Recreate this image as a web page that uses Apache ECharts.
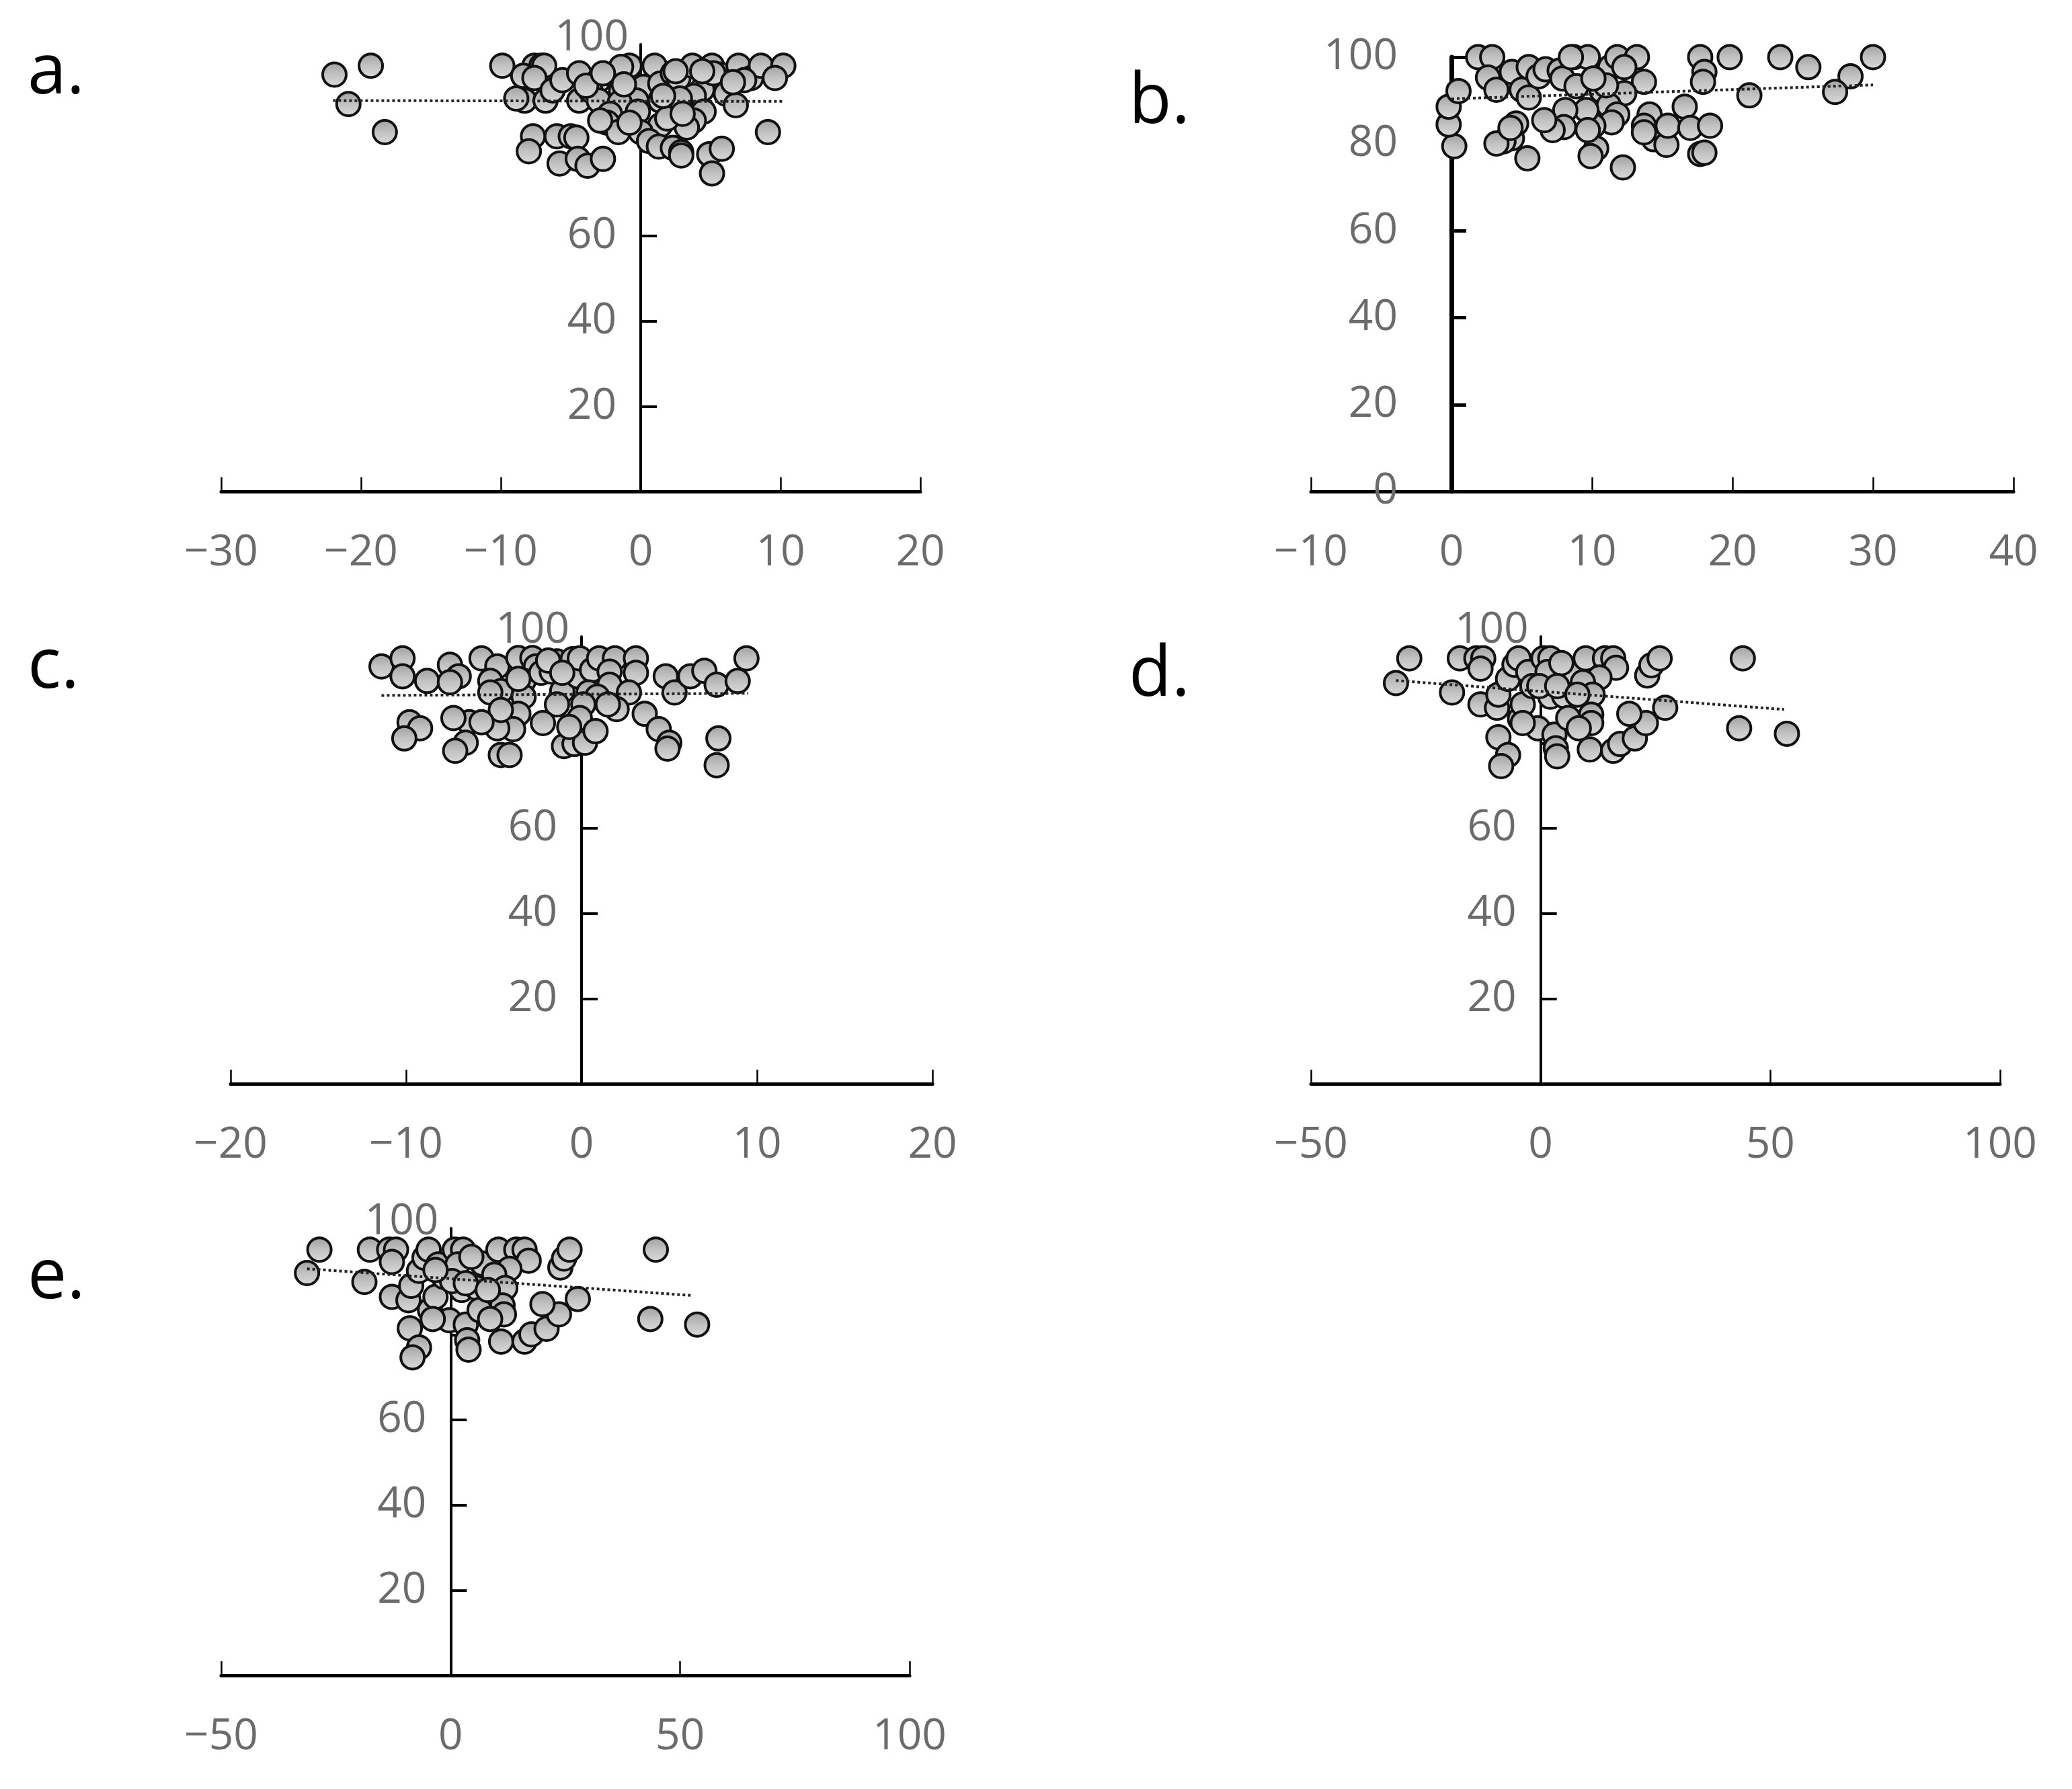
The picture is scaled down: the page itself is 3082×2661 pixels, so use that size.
<!DOCTYPE html>
<html>
<head>
<meta charset="utf-8">
<script src="https://cdn.jsdelivr.net/npm/echarts/dist/echarts.min.js"></script>
<style>
html,body{margin:0;padding:0;background:#fff;}
#chart{width:3082px;height:2661px;}
</style>
</head>
<body>
<div id="chart"></div>
<script>
// ---------- data (x, y) ----------
const pointsA = [[-21.9,97.9],[-19.3,100],[-20.9,91.0],[-18.3,84.4],[-9.9,100],[-7.6,100],[-7.1,100],[-6.9,100],[-8.4,97.6],[-7.6,97.1],[-8.3,91.8],[-6.8,91.8],[-6.3,94.2],[-5.6,96.6],[-4.4,98.2],[-4.4,91.8],[-3.0,96.6],[-3.6,94.2],[-3.0,91.8],[-2.0,97.9],[-0.9,98.2],[-0.8,100],[-1.4,94.2],[0.2,95.0],[1.0,100],[1.4,95.8],[2.3,98.2],[2.7,97.1],[3.7,100],[5.1,100],[5.7,97.9],[7.0,100],[7.9,97.1],[8.6,100],[10.2,100],[9.6,97.1],[7.4,96.6],[4.4,94.4],[3.8,92.9],[6.1,93.4],[6.8,90.7],[2.9,90.7],[1.4,91.8],[-0.3,91.8],[-1.5,91.3],[-2.2,88.7],[-2.4,86.6],[-0.2,89.2],[4.5,89.2],[3.8,87.1],[3.3,85.5],[1.4,86.0],[-1.6,84.4],[0.0,84.4],[0.6,82.3],[1.3,81.0],[2.3,80.7],[2.9,79.7],[2.9,78.9],[4.9,79.2],[5.8,80.5],[5.1,74.7],[9.1,84.4],[-7.7,83.4],[-8.0,79.9],[-6.0,83.4],[-5.0,83.4],[-4.6,83.1],[-5.8,77.0],[-4.5,78.1],[-3.8,76.5],[-2.7,78.1],[-2.9,87.1],[-0.8,86.6],[1.9,87.6],[2.8,92.3],[5.2,98.2],[6.6,96.1],[4.4,98.7],[2.5,98.7],[-3.9,95.3],[-1.4,99.7],[-2.7,98.2],[-8.9,92.3],[-1.2,95.6],[1.6,92.9],[3.0,88.7]];
const trendA = [[-22.0,91.8],[10.2,91.6]];

const pointsB = [[1.9,100],[2.9,100],[2.6,95.3],[3.2,92.5],[4.3,96.6],[5.5,97.7],[5.0,92.5],[5.5,90.7],[6.2,95.6],[6.7,97.2],[7.7,96.9],[7.9,95.1],[8.7,100],[9.7,100],[8.9,93.3],[10.4,94.3],[10.7,92.2],[11.3,97.7],[11.8,100],[13.2,100],[12.3,97.7],[13.7,94.3],[12.3,91.7],[11.2,88.9],[11.8,86.8],[11.4,85.0],[10.1,84.2],[10.3,79.0],[9.9,77.2],[9.6,87.8],[8.1,87.8],[8.0,83.9],[7.2,83.2],[6.6,85.5],[4.3,81.3],[3.7,80.6],[3.2,80.1],[4.6,84.7],[4.2,83.7],[5.4,76.7],[12.2,74.6],[0.2,79.5],[-0.2,84.5],[-0.2,88.6],[0.5,92.2],[14.1,86.8],[13.7,84.2],[14.4,81.1],[15.3,79.8],[15.4,84.2],[16.6,88.6],[17.0,83.7],[18.4,84.2],[17.7,77.7],[18.0,78.0],[17.7,100],[18.0,96.6],[17.9,94.3],[19.8,100],[21.2,91.2],[23.4,100],[25.4,97.7],[28.4,95.6],[27.3,92.0],[30.0,100],[11.0,93.5],[10.1,95.1],[8.5,100],[13.7,82.7],[9.7,83.2]];
const trendB = [[0.0,90.4],[30.0,93.6]];

const pointsC = [[-11.4,98.0],[-10.2,99.9],[-10.2,95.7],[-8.8,94.6],[-7.5,98.4],[-7.0,95.7],[-7.5,94.3],[-5.7,99.9],[-4.8,98.0],[-5.2,94.6],[-4.6,92.2],[-5.2,91.9],[-3.6,100],[-2.8,100],[-2.6,98.0],[-3.3,94.6],[-2.3,96.5],[-1.7,96.8],[-1.4,99.2],[-1.9,99.4],[-3.3,90.9],[-1.1,92.2],[-0.5,99.7],[-0.2,95.7],[-0.1,99.9],[0.6,97.2],[1.0,99.9],[1.9,99.9],[3.1,99.9],[3.1,96.5],[1.6,96.8],[1.6,93.7],[2.7,91.9],[0.4,91.9],[0.9,90.9],[0.1,89.1],[-1.4,89.1],[2.0,88.0],[1.5,89.1],[3.6,86.9],[4.4,83.3],[5.0,80.1],[4.9,78.7],[4.8,95.7],[5.3,91.9],[6.2,95.7],[7.0,97.0],[7.7,93.7],[8.9,94.6],[9.4,99.9],[7.8,81.1],[7.7,74.8],[-2.2,84.7],[-3.6,86.9],[-3.9,83.3],[-4.8,83.5],[-4.6,87.8],[-6.4,84.9],[-5.7,84.9],[-7.3,85.9],[-6.6,80.1],[-7.2,78.2],[-4.6,77.2],[-4.1,77.2],[-9.8,84.9],[-9.2,83.5],[-10.1,81.1],[-1.0,79.3],[-0.4,79.8],[0.2,80.1],[-0.1,85.9],[-0.7,83.8],[0.8,82.8],[-1.1,96.5],[-3.6,95.1]];
const trendC = [[-11.4,91.2],[9.5,91.7]];

const pointsD = [[-28.6,99.9],[-31.5,94.1],[-19.3,91.9],[-17.6,99.9],[-14.0,99.9],[-12.5,99.9],[-13.1,97.5],[-13.1,89.1],[-9.5,88.3],[-9.2,91.4],[-7.1,95.1],[-5.7,98.4],[-4.8,99.9],[-9.2,81.4],[-7.1,77.2],[-8.6,74.6],[-4.5,85.7],[-3.9,89.1],[-2.7,96.7],[-1.8,93.4],[-0.6,83.5],[0.6,99.9],[2.1,99.9],[1.5,96.7],[3.0,82.0],[3.3,78.8],[3.6,76.9],[2.1,90.9],[5.1,91.1],[6.5,96.7],[4.5,98.8],[9.8,99.9],[14.0,99.9],[15.8,99.9],[16.4,97.7],[12.8,95.4],[9.2,94.3],[11.3,91.4],[11.0,86.7],[11.0,84.7],[6.0,85.9],[8.3,83.5],[10.7,78.5],[15.8,78.2],[17.3,79.8],[20.5,81.1],[22.9,84.7],[19.3,86.9],[27.1,88.3],[23.2,95.9],[24.1,98.3],[25.9,99.9],[44.0,99.9],[43.2,83.5],[53.6,82.2],[-3.9,84.7],[-0.3,93.4],[3.6,93.4],[8.0,91.4]];
const trendD = [[-31.5,94.7],[53.0,87.9]];

const pointsE = [[-28.6,100],[-31.3,94.5],[-18.8,92.4],[-17.6,100],[-13.4,100],[-11.9,100],[-12.8,97.1],[-12.8,88.9],[-9.2,88.1],[-8.6,91.5],[-6.9,95.0],[-5.7,98.1],[-4.8,100],[-8.9,81.5],[-6.9,77.0],[-8.3,74.7],[-4.5,85.8],[-3.3,88.9],[-2.7,96.5],[-1.5,93.6],[-0.3,83.4],[0.9,100],[2.7,100],[1.5,96.5],[3.3,82.4],[3.6,78.7],[3.9,76.5],[2.4,90.5],[5.7,91.0],[6.9,96.7],[4.5,98.3],[10.4,100],[14.3,100],[16.1,100],[17.0,97.4],[12.8,95.5],[9.5,94.1],[11.9,91.0],[11.3,86.9],[11.6,84.8],[6.3,85.8],[8.6,83.7],[11.0,78.4],[16.1,78.4],[17.6,80.1],[20.9,81.4],[23.6,84.8],[20.0,87.2],[27.7,88.4],[23.9,95.8],[24.7,97.9],[25.9,100],[44.7,100],[43.5,83.7],[53.7,82.4],[-3.9,83.7],[0.3,92.6],[3.3,92.1],[8.1,90.5],[-3.3,95.2]];
const trendE = [[-31.3,95.5],[52.8,89.2]];

// axis ranges and tick labels
const panelLetters = ['a.', 'b.', 'c.', 'd.', 'e.'];
const xRanges = [[-30,20,10],[-10,40,10],[-20,20,10],[-50,100,50],[-50,100,50]];
const yLabelsTop = [20,40,60,100];
const yLabelsB = [0,20,40,60,80,100];

// ---------- layout / style ----------
const panels = [
  {pts: pointsA, trend: trendA, grid:{left:329,top:66,width:1040,height:665}, yMax:105, b:false, title:{left:36,top:52}},
  {pts: pointsB, trend: trendB, grid:{left:1950,top:85,width:1045,height:646}, yMax:100, b:true, title:{left:1674,top:96}},
  {pts: pointsC, trend: trendC, grid:{left:343,top:947,width:1044,height:665}, yMax:105, b:false, title:{left:36,top:936}},
  {pts: pointsD, trend: trendD, grid:{left:1950,top:947,width:1025,height:665}, yMax:105, b:false, title:{left:1674,top:948}},
  {pts: pointsE, trend: trendE, grid:{left:329,top:1827,width:1024,height:665}, yMax:105, b:false, title:{left:36,top:1844}}
];

const FONT = 'Open Sans';
const LABEL_COLOR = '#6b6b6b';
const LABEL_SIZE = 64;

const fill = new echarts.graphic.LinearGradient(0,0,0,1,[
  {offset:0,color:'#9e9e9e'},{offset:0.5,color:'#c2c2c2'},{offset:1,color:'#dadada'}
]);

const option = {animation:false, backgroundColor:'#fff', title:[], grid:[], xAxis:[], yAxis:[], series:[]};

panels.forEach((p, i) => {
  const [xmin, xmax, xint] = xRanges[i];
  option.title.push({
    text: panelLetters[i], left: p.title.left, top: p.title.top,
    textStyle:{fontFamily:FONT, fontSize:104, fontWeight:'normal', color:'#000'}
  });
  option.grid.push(Object.assign({}, p.grid));
  option.xAxis.push({
    type:'value', gridIndex:i, min:xmin, max:xmax, interval:xint,
    axisLine:{show:true, onZero:false, lineStyle:{color:'#000', width:5}},
    axisTick:{show:true, inside:true, length:21, lineStyle:{color:'#000', width:2.5}},
    splitLine:{show:false},
    axisLabel:{show:true, margin:60, fontSize:LABEL_SIZE, fontFamily:FONT, color:LABEL_COLOR,
      formatter: v => v < 0 ? '\u2212' + Math.abs(v) : String(v)}
  });
  const yLabels = p.b ? yLabelsB : yLabelsTop;
  // put the y axis where x = 0 (offset from the grid's left edge, derived from the x scale)
  const zeroOffset = -p.grid.width * (0 - xmin) / (xmax - xmin);
  option.yAxis.push({
    type:'value', gridIndex:i, min:0, max:p.yMax, interval:20, offset: zeroOffset,
    axisLine:{show:true, onZero:false, lineStyle:{color:'#000', width:p.b ? 7 : 4}},
    axisTick:{show:true, inside:true, length:p.b ? 22 : 24,
      customValues: p.b ? [20,40,60,80,100] : [20,40,60,80],
      lineStyle:{color:'#000', width:p.b ? 5 : 4}},
    splitLine:{show:false},
    axisLabel:{show:true, margin: p.b ? 80 : 18, customValues: yLabels,
      fontSize:LABEL_SIZE, fontFamily:FONT, color:LABEL_COLOR,
      formatter: v => (!p.b && v === 100) ? '{t|100}' : (p.b ? String(v) : '{n|' + v + '}'),
      rich:{
        t:{fontSize:LABEL_SIZE, fontFamily:FONT, color:LABEL_COLOR, padding:[0,0,82,0]},
        n:{fontSize:LABEL_SIZE, fontFamily:FONT, color:LABEL_COLOR, padding:[0,18,0,0]}
      }}
  });
  option.series.push({
    type:'scatter', xAxisIndex:i, yAxisIndex:i, data:p.pts,
    symbol:'circle', symbolSize:35, z:3,
    itemStyle:{color:fill, borderColor:'#111', borderWidth:4, opacity:1}
  });
  option.series.push({
    type:'line', xAxisIndex:i, yAxisIndex:i, data:p.trend,
    showSymbol:false, symbol:'none', z:5, silent:true,
    lineStyle:{color:'#222', width:4, type:'dotted'}
  });
});

const chart = echarts.init(document.getElementById('chart'), null, {renderer:'canvas'});
chart.setOption(option);
</script>
</body>
</html>
